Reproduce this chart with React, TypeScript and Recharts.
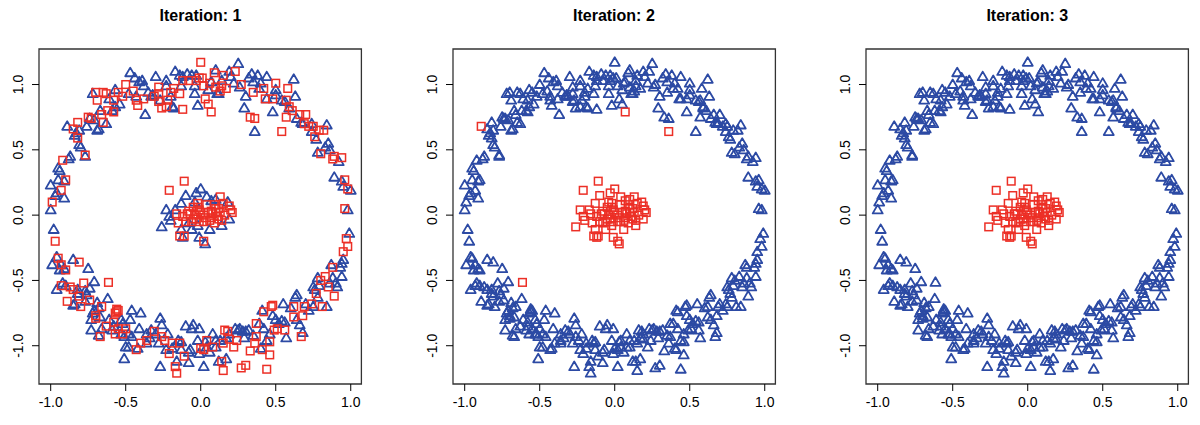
import React from 'react';
import { ScatterChart, Scatter, XAxis, YAxis, ReferenceArea } from 'recharts';

type Pt = [number, number];

// outer ring, classified blue (triangle) at iteration 1
const ringBlue1: Pt[] = [
  [-0.72, 0.93], [-0.67, 0.8], [-0.61, 0.89], [-0.57, 0.83], [-0.54, 0.85], [-0.47, 1.09], [-0.44, 1.05],
  [-0.43, 0.91], [-0.41, 1.02], [-0.38, 0.99], [-0.37, 0.77], [-0.35, 0.94], [-0.33, 0.91], [-0.3, 1.06],
  [-0.27, 0.88], [-0.23, 0.99], [-0.2, 0.91], [-0.18, 0.82], [-0.17, 1.1], [-0.14, 1.07], [-0.13, 0.99],
  [-0.09, 1.08], [-0.06, 1.07], [-0.04, 0.99], [-0.03, 1.07], [0.05, 0.96], [0.12, 0.93], [0.14, 1.03],
  [0.19, 1.1], [0.2, 1.06], [0.25, 1.16], [0.22, 1.01], [0.26, 0.98], [0.3, 0.91], [0.32, 1.05],
  [0.34, 1.08], [0.35, 1.02], [0.38, 1.07], [0.39, 0.97], [0.4, 1.01], [0.44, 1.06], [0.44, 0.89],
  [0.48, 0.79], [0.5, 0.96], [0.54, 0.88], [0.62, 1.04], [0.63, 0.91], [0.59, 0.82], [0.64, 0.74],
  [0.67, 0.71], [0.74, 0.7], [0.74, 0.64], [0.77, 0.58], [0.84, 0.69], [0.78, 0.48], [0.83, 0.52],
  [0.85, 0.55], [0.86, 0.5], [0.92, 0.41], [0.89, 0.29], [0.94, 0.26], [0.95, 0.22], [1.0, 0.19],
  [0.98, 0.04], [0.99, -0.14], [0.95, -0.34], [0.93, -0.4], [0.94, -0.47], [0.9, -0.52], [0.86, -0.52],
  [0.88, -0.48], [0.79, -0.54], [0.76, -0.57], [0.78, -0.63], [0.75, -0.7], [0.84, -0.7], [0.72, -0.73],
  [0.63, -0.63], [0.64, -0.8], [0.6, -0.71], [0.57, -0.94], [0.54, -0.81], [0.52, -0.83], [0.5, -0.8],
  [0.46, -0.91], [0.48, -0.77], [0.39, -0.83], [0.42, -0.87], [0.44, -0.96], [0.35, -0.92], [0.32, -0.88],
  [0.29, -0.94], [0.28, -0.89], [0.26, -0.87], [0.25, -0.88], [0.19, -0.91], [0.17, -0.94], [0.13, -0.96],
  [0.17, -1.1], [0.1, -1.01], [0.08, -0.91], [0.06, -1.05], [0.04, -1.01], [-0.01, -1.06], [-0.02, -0.96],
  [0.02, -1.16], [-0.05, -0.84], [-0.07, -1.03], [-0.08, -1.13], [-0.13, -1.03], [-0.15, -0.96], [-0.23, -1.03],
  [-0.22, -0.91], [-0.27, -1.16], [-0.28, -0.98], [-0.3, -0.91], [-0.34, -0.94], [-0.36, -0.98], [-0.36, -0.91],
  [-0.46, -0.93], [-0.51, -1.1], [-0.48, -1.01], [-0.48, -0.91], [-0.51, -0.93], [-0.53, -0.8], [-0.53, -0.91],
  [-0.58, -0.85], [-0.61, -0.8], [-0.66, -0.87], [-0.67, -0.78], [-0.68, -0.71], [-0.73, -0.88], [-0.73, -0.8],
  [-0.71, -0.73], [-0.77, -0.66], [-0.84, -0.68], [-0.74, -0.56], [-0.77, -0.58], [-0.82, -0.57], [-0.82, -0.6],
  [-0.9, -0.54], [-0.92, -0.52], [-0.96, -0.57], [-0.85, -0.34], [-0.91, -0.41], [-0.99, -0.38], [-0.98, -0.11],
  [-1.0, 0.04], [-0.97, 0.15], [-0.96, 0.17], [-1.0, 0.23], [-0.91, 0.26], [-0.94, 0.34], [-0.95, 0.36],
  [-0.88, 0.43], [-0.87, 0.45], [-0.77, 0.45], [-0.81, 0.54], [-0.8, 0.52], [-0.83, 0.63], [-0.81, 0.65],
  [-0.76, 0.68], [-0.74, 0.74], [-0.68, 0.66], [-0.71, 0.73], [-0.63, 0.7],
  [-0.39, 1.03], [-0.57, 0.96], [-0.48, 0.93], [-0.32, 0.92], [-0.23, 1.03], [-0.12, 1.06], [-0.04, 0.93],
  [-0.19, 0.83], [-0.02, 0.84], [-0.59, 0.8], [-0.69, 0.65], [-0.84, 0.61], [-0.95, 0.27], [-0.91, 0.13],
  [0.1, 1.11], [0.07, 1.02], [0.11, 0.93], [0.29, 0.82], [0.5, 0.92], [0.56, 0.87], [0.68, 0.7],
  [0.87, -0.38], [0.94, -0.37], [0.78, -0.48], [0.91, -0.55], [0.75, -0.55], [0.64, -0.61], [0.7, -0.68],
  [0.55, -0.68], [0.41, -0.73], [0.56, -0.82], [0.66, -0.84], [0.68, -0.9], [0.3, -0.89], [0.23, -0.87],
  [0.1, -0.96], [0.03, -0.97], [-0.01, -0.87], [0.4, -1.02], [0.12, -1.12],
  [-0.96, -0.32], [-0.93, -0.38], [-0.94, -0.42], [-0.75, -0.41], [-0.85, -0.69], [-0.71, -0.51], [-0.76, -0.61],
  [-0.69, -0.67], [-0.62, -0.64], [-0.72, -0.75], [-0.68, -0.92], [-0.59, -0.88], [-0.52, -0.83], [-0.46, -0.73],
  [-0.4, -0.75], [-0.47, -0.8], [-0.41, -0.87], [-0.5, -1.01], [-0.42, -1.02], [-0.33, -0.88], [-0.27, -0.79],
  [-0.26, -0.84], [-0.1, -0.85], [-0.06, -0.87], [-0.13, -0.97], [-0.08, -1.05], [-0.19, -1.02], [-0.16, -1.12],
];

// outer ring, classified red (square) at iteration 1
const ringRed1: Pt[] = [
  [-0.7, 0.94], [-0.69, 0.88], [-0.63, 0.93], [-0.62, 0.8], [-0.58, 0.79], [-0.55, 0.94], [-0.58, 0.88],
  [-0.52, 0.91], [-0.5, 1.0], [-0.45, 0.95], [-0.42, 0.84], [-0.38, 0.89], [-0.31, 0.91], [-0.28, 0.93],
  [-0.26, 0.82], [-0.22, 0.88], [-0.18, 0.97], [-0.14, 0.93], [-0.12, 0.81], [-0.12, 1.03], [-0.08, 1.03],
  [-0.03, 1.03], [-0.01, 1.05], [0.0, 1.17], [0.02, 0.99], [0.03, 0.89], [0.05, 0.85], [0.06, 1.01],
  [0.09, 1.09], [0.1, 0.98], [0.13, 0.95], [0.15, 1.07], [0.17, 0.97], [0.23, 1.1], [0.27, 1.0],
  [0.33, 0.75], [0.36, 0.74], [0.42, 0.97], [0.48, 0.89], [0.5, 1.01], [0.54, 0.64], [0.57, 0.88],
  [0.58, 0.97], [0.57, 0.75], [0.61, 0.8], [0.66, 0.77], [0.69, 0.7], [0.7, 0.77], [0.72, 0.68],
  [0.75, 0.68], [0.79, 0.65], [0.76, 0.6], [0.82, 0.65], [0.8, 0.47], [0.88, 0.43], [0.89, 0.45],
  [0.94, 0.44], [0.96, 0.27], [0.98, 0.2], [0.96, 0.05], [0.97, -0.18], [0.98, -0.24], [0.95, -0.28],
  [0.88, -0.4], [0.83, -0.47], [0.85, -0.55], [0.8, -0.5], [0.77, -0.6], [0.89, -0.62], [0.74, -0.68],
  [0.81, -0.7], [0.69, -0.7], [0.68, -0.77], [0.62, -0.7], [0.62, -0.78], [0.67, -0.93], [0.56, -0.88],
  [0.49, -0.88], [0.47, -0.7], [0.42, -0.74], [0.37, -0.83], [0.37, -0.93], [0.36, -0.98], [0.24, -0.96],
  [0.22, -1.01], [0.18, -0.89], [0.19, -0.95], [0.15, -0.98], [0.14, -1.12], [0.15, -1.19], [0.08, -1.01],
  [0.04, -0.96], [0.0, -1.02], [0.02, -1.03], [-0.11, -1.08], [-0.14, -0.98], [-0.16, -1.21], [-0.17, -1.16],
  [-0.19, -0.98], [-0.21, -1.06], [-0.24, -0.96], [-0.26, -0.93], [-0.31, -0.89], [-0.36, -0.96], [-0.4, -0.98],
  [-0.43, -1.03], [-0.5, -0.87], [-0.55, -0.87], [-0.57, -0.91], [-0.58, -0.82], [-0.63, -0.85], [-0.66, -0.7],
  [-0.7, -0.79], [-0.67, -0.93], [-0.74, -0.65], [-0.8, -0.7], [-0.81, -0.62], [-0.78, -0.52], [-0.85, -0.57],
  [-0.89, -0.66], [-0.87, -0.55], [-0.93, -0.54], [-0.9, -0.42], [-0.81, -0.36], [-0.93, -0.38], [-0.95, -0.33],
  [-0.97, -0.2], [-0.99, 0.1], [-0.93, 0.19], [-0.92, 0.42], [-0.77, 0.46], [-0.82, 0.59], [-0.85, 0.66],
  [-0.82, 0.71], [-0.75, 0.75], [-0.73, 0.74], [-0.66, 0.77], [-0.65, 0.71],
  [-0.56, -0.74], [-0.57, -0.75], [-0.55, -0.73], [-0.56, -0.72],
  [-0.65, 0.94], [-0.43, 0.88], [-0.28, 0.98], [-0.2, 0.94], [-0.23, 0.83], [-0.28, 0.87], [-0.9, 0.27],
  [0.01, 1.05], [0.14, 0.99], [0.35, 0.94], [0.43, 0.89], [0.59, 0.83],
  [0.27, -1.17], [0.3, -1.15], [0.44, -1.18], [0.33, -1.04], [0.46, -1.07], [0.41, -1.03], [0.46, -0.97],
  [0.51, -0.87], [0.16, -0.88], [0.48, -0.69], [-0.7, -0.77], [-0.52, -0.91],
];

// ring points that stay red at iteration 2
const strayBlue1: Pt[] = [[-0.89, 0.68], [0.36, 0.64]];
const strayRed1: Pt[] = [[0.07, 0.79], [-0.615, -0.515]];

// inner cluster
const coreBlue1: Pt[] = [
  [0.0, 0.2], [-0.03, 0.17], [-0.1, 0.15], [-0.13, 0.09], [-0.23, 0.04], [-0.17, 0.04], [-0.26, -0.09],
  [-0.2, -0.04], [0.18, 0.1], [0.07, 0.11], [0.19, -0.03], [0.14, -0.08], [0.06, -0.11], [-0.06, -0.11],
  [-0.13, -0.11], [-0.12, -0.17], [-0.01, -0.17], [0.03, -0.22], [0.04, 0.14], [-0.04, 0.1], [0.1, 0.12],
  [-0.08, -0.06], [-0.02, -0.08], [-0.21, -0.01],
];
const coreRed1: Pt[] = [
  [-0.11, 0.26], [-0.21, 0.19], [-0.16, 0.01], [-0.07, 0.01], [-0.05, -0.03], [-0.02, 0.06], [0.04, 0.08],
  [0.07, 0.03], [0.13, 0.14], [0.1, 0.05], [0.16, 0.0], [0.2, 0.04], [0.14, -0.04], [0.02, 0.0],
  [-0.01, -0.05], [-0.14, -0.16], [0.02, -0.2], [-0.01, 0.04], [-0.05, 0.06], [-0.09, 0.01], [-0.12, -0.01],
  [-0.03, -0.03], [0.08, 0.01], [0.11, -0.01], [0.12, 0.05], [-0.06, -0.05], [0.02, -0.05], [0.06, -0.04],
  [0.09, -0.06], [-0.1, -0.05], [-0.15, -0.06], [0.0, 0.02], [0.05, 0.02], [-0.04, 0.0], [0.03, -0.02],
  [0.1, 0.02], [0.13, 0.02], [-0.08, 0.03], [0.07, -0.02], [0.12, -0.03], [-0.02, 0.09], [0.09, 0.08],
  [0.21, 0.02], [0.19, 0.07], [0.15, 0.09], [-0.11, -0.16],
];

const axisTicks = [-1, -0.5, 0, 0.5, 1];
const titles = ['Iteration: 1', 'Iteration: 2', 'Iteration: 3'];

const xDomain: [number, number] = [-1.078, 1.071];
const yDomain: [number, number] = [-1.293, 1.272];

const BLUE = '#2c4aa4';
const RED = '#ec2f26';
const FONT = '"Liberation Sans", Arial, Helvetica, sans-serif';

const ring = [...ringBlue1, ...ringRed1];
const core = [...coreBlue1, ...coreRed1];
const strays = [...strayBlue1, ...strayRed1];

const toData = (pts: Pt[]) => pts.map(([x, y]) => ({ x, y }));

const panels = [
  { blue: [...ringBlue1, ...strayBlue1, ...coreBlue1], red: [...ringRed1, ...strayRed1, ...coreRed1] },
  { blue: ring, red: [...core, ...strays] },
  { blue: [...ring, ...strays], red: core },
];

const Triangle = (props: any) => {
  const { cx, cy } = props;
  if (cx == null || cy == null) return null;
  const pts = `${cx},${cy - 5.1} ${cx - 5},${cy + 3.5} ${cx + 5},${cy + 3.5}`;
  return <polygon points={pts} fill="none" stroke={BLUE} strokeWidth={1.8} strokeLinejoin="round" />;
};

const Square = (props: any) => {
  const { cx, cy } = props;
  if (cx == null || cy == null) return null;
  return <rect x={cx - 3.8} y={cy - 3.8} width={7.6} height={7.6} fill="none" stroke={RED} strokeWidth={1.5} />;
};

const YTick = (props: any) => {
  const { y, payload } = props;
  const x = 17.7;
  return (
    <text
      x={x}
      y={y}
      dy="0.36em"
      transform={`rotate(-90 ${x} ${y})`}
      textAnchor="middle"
      fontSize={14}
      fontFamily={FONT}
      fill="#000"
    >
      {Number(payload.value).toFixed(1)}
    </text>
  );
};

function Panel({ index }: { index: number }) {
  const left = 0.3 + index * 413.4;
  const { blue, red } = panels[index];
  return (
    <div style={{ position: 'absolute', left, top: 0, width: 370, height: 425 }}>
      <div
        style={{
          position: 'absolute',
          left: 39,
          top: 7,
          width: 322.4,
          textAlign: 'center',
          fontFamily: FONT,
          fontWeight: 'bold',
          fontSize: 16,
          lineHeight: '18px',
          color: '#000',
        }}
      >
        {titles[index]}
      </div>
      <ScatterChart width={370} height={425} margin={{ top: 49, right: 8.6, bottom: 0, left: 0 }}>
        <XAxis
          type="number"
          dataKey="x"
          domain={xDomain}
          ticks={axisTicks}
          interval={0}
          allowDataOverflow
          axisLine={false}
          tickLine={{ stroke: '#000' }}
          tickSize={7}
          tickMargin={6}
          height={41}
          tickFormatter={(v: number) => v.toFixed(1)}
          tick={{ fill: '#000', fontSize: 14, fontFamily: FONT }}
        />
        <YAxis
          type="number"
          dataKey="y"
          domain={yDomain}
          ticks={axisTicks}
          interval={0}
          allowDataOverflow
          axisLine={false}
          tickLine={{ stroke: '#000' }}
          tickSize={7}
          width={39}
          tick={<YTick />}
        />
        <ReferenceArea
          x1={xDomain[0]}
          x2={xDomain[1]}
          y1={yDomain[0]}
          y2={yDomain[1]}
          fill="none"
          stroke="#333"
          strokeWidth={1.3}
          ifOverflow="visible"
        />
        <Scatter data={toData(blue)} shape={<Triangle />} isAnimationActive={false} />
        <Scatter data={toData(red)} shape={<Square />} isAnimationActive={false} />
      </ScatterChart>
    </div>
  );
}

export default function App() {
  return (
    <div style={{ position: 'absolute', left: 0, top: 0, width: 1200, height: 425, background: '#fff' }}>
      {[0, 1, 2].map((i) => (
        <Panel key={i} index={i} />
      ))}
    </div>
  );
}
